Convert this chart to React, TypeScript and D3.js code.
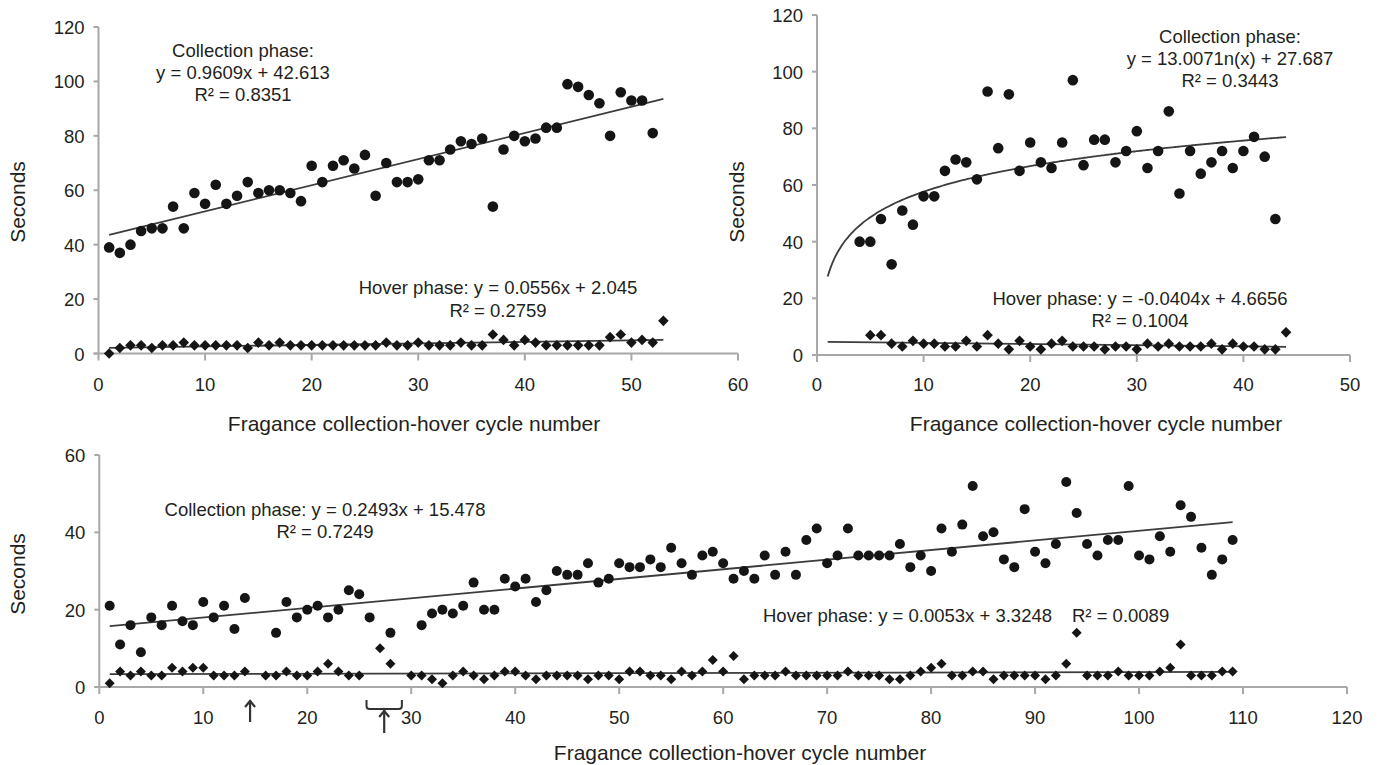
import React from "react";
import * as d3 from "d3";

// ---------- DATA ----------
// Top-left panel (cycles start at 1)
const tlCollection = [39, 37, 40, 45, 46, 46, 54, 46, 59, 55, 62, 55, 58, 63, 59, 60, 60, 59, 56, 69, 63, 69, 71, 68, 73, 58, 70, 63, 63, 64, 71, 71, 75, 78, 77, 79, 54, 75, 80, 78, 79, 83, 83, 99, 98, 95, 92, 80, 96, 93, 93, 81];
const tlHover = [0, 2, 3, 3, 2, 3, 3, 4, 3, 3, 3, 3, 3, 2, 4, 3, 4, 3, 3, 3, 3, 3, 3, 3, 3, 3, 4, 3, 3, 4, 3, 3, 3, 4, 3, 3, 7, 5, 3, 5, 4, 3, 3, 3, 3, 3, 3, 6, 7, 4, 5, 4, 12];
const tlCollectionStart = 1;
const tlHoverStart = 1;

// Top-right panel
const trCollection = [40, 40, 48, 32, 51, 46, 56, 56, 65, 69, 68, 62, 93, 73, 92, 65, 75, 68, 66, 75, 97, 67, 76, 76, 68, 72, 79, 66, 72, 86, 57, 72, 64, 68, 72, 66, 72, 77, 70, 48];
const trHover = [7, 7, 4, 3, 5, 4, 4, 3, 3, 5, 3, 7, 4, 2, 5, 3, 2, 4, 5, 3, 3, 3, 2, 3, 3, 2, 4, 3, 4, 3, 3, 3, 4, 2, 4, 3, 3, 2, 2, 8];
const trCollectionStart = 4;
const trHoverStart = 5;

// Bottom panel (cycles 1..109, null = no value)
const bCollection = [
  21, 11, 16, 9, 18, 16, 21, 17, 16, 22,
  18, 21, 15, 23, null, null, 14, 22, 18, 20,
  21, 18, 20, 25, 24, 18, null, 14, null, null,
  16, 19, 20, 19, 21, 27, 20, 20, 28, 26,
  28, 22, 25, 30, 29, 29, 32, 27, 28, 32,
  31, 31, 33, 31, 36, 32, 29, 34, 35, 32,
  28, 30, 28, 34, 29, 35, 29, 38, 41, 32,
  34, 41, 34, 34, 34, 34, 37, 31, 34, 30,
  41, 35, 42, 52, 39, 40, 33, 31, 46, 35,
  32, 37, 53, 45, 37, 34, 38, 38, 52, 34,
  33, 39, 35, 47, 44, 36, 29, 33, 38,
];
const bHover = [
  1, 4, 3, 4, 3, 3, 5, 4, 5, 5,
  3, 3, 3, 4, null, 3, 3, 4, 3, 3,
  4, 6, 4, 3, 3, null, 10, 6, null, 3,
  3, 2, 1, 3, 4, 3, 2, 3, 4, 4,
  3, 2, 3, 3, 3, 3, 2, 3, 3, 2,
  4, 4, 3, 3, 2, 4, 3, 4, 7, 4,
  8, 2, 3, 3, 3, 4, 3, 3, 3, 3,
  3, 4, 3, 3, 3, 2, 2, 3, 4, 5,
  6, 3, 3, 4, 4, 2, 3, 3, 3, 3,
  2, 3, 6, 14, 3, 3, 3, 4, 3, 3,
  3, 4, 5, 11, 3, 3, 3, 4, 4,
];
const bStart = 1;

// Annotation markers in the bottom panel (cycle numbers)
const bArrows = [14.5, 27.4];
const bBracket = [25.7, 29.1];

// Trend equations (as printed in the figure)
const tlCollFit = { a: 0.9609, b: 42.613, x0: 1, x1: 53 };
const tlHoverFit = { a: 0.0556, b: 2.045, x0: 1, x1: 53 };
const trCollFit = { a: 13.007, b: 27.687, x0: 1, x1: 44 }; // logarithmic
const trHoverFit = { a: -0.0404, b: 4.6656, x0: 1, x1: 44 };
const bCollFit = { a: 0.2493, b: 15.478, x0: 1, x1: 109 };
const bHoverFit = { a: 0.0053, b: 3.3248, x0: 1, x1: 109 };

const xTitle = "Fragance collection-hover cycle number";
const yTitle = "Seconds";

// ---------- STYLE ----------
const FONT = "'Liberation Sans', Arial, Helvetica, sans-serif";
const AXIS = "#a8a8a8";
const TXT = "#231f20";
const MARK = "#151515";
const TREND = "#3c3c3c";

type Pt = { x: number; y: number };
const toPts = (vals: (number | null)[], start: number): Pt[] =>
  vals
    .map((v, i) => (v == null ? null : { x: start + i, y: v }))
    .filter((d): d is Pt => d != null);

const diamond = (r: number) => `M0,${-r}L${r},0L0,${r}L${-r},0Z`;

function Axes({ x, y, xTickVals, yTickVals, labelDy }: any) {
  const x0 = x(0);
  const y0 = y(0);
  const xr = x.range();
  const yr = y.range();
  return (
    <g>
      <line x1={x0} x2={x0} y1={y0 + 1} y2={yr[1]} stroke={AXIS} strokeWidth={2} />
      <line x1={x0 - 5} x2={xr[1]} y1={y0} y2={y0} stroke={AXIS} strokeWidth={2} />
      {yTickVals.map((t: number) => (
        <g key={"y" + t}>
          <line x1={x0 - 5} x2={x0} y1={y(t)} y2={y(t)} stroke={AXIS} strokeWidth={2} />
          <text x={x0 - 14} y={y(t) + 7} textAnchor="end" fontSize={18.5} fill={TXT}>{t}</text>
        </g>
      ))}
      {xTickVals.map((t: number) => (
        <g key={"x" + t}>
          <line x1={x(t)} x2={x(t)} y1={y0} y2={y0 + 7} stroke={AXIS} strokeWidth={2} />
          <text x={x(t)} y={y0 + labelDy} textAnchor="middle" fontSize={18.5} fill={TXT}>{t}</text>
        </g>
      ))}
    </g>
  );
}

function Markers({ x, y, coll, hover, r }: any) {
  return (
    <g>
      {hover.map((d: Pt, i: number) => (
        <path key={"h" + i} d={diamond(r)} transform={`translate(${x(d.x)},${y(d.y)})`} fill={MARK} />
      ))}
      {coll.map((d: Pt, i: number) => (
        <circle key={"c" + i} cx={x(d.x)} cy={y(d.y)} r={r} fill={MARK} />
      ))}
    </g>
  );
}

function linFit(x: any, y: any, f: any) {
  const line = d3.line<number>().x((v) => x(v)).y((v) => y(f.a * v + f.b));
  return line([f.x0, f.x1]) || "";
}

function logFit(x: any, y: any, f: any) {
  const xs: number[] = [];
  for (let v = f.x0; v <= f.x1 + 1e-9; v += 0.25) xs.push(v);
  const line = d3.line<number>().x((v) => x(v)).y((v) => y(f.a * Math.log(v) + f.b)).curve(d3.curveMonotoneX);
  return line(xs) || "";
}

export default function App() {
  // Top-left
  const xTL = d3.scaleLinear().domain([0, 60]).range([98.5, 738]);
  const yTL = d3.scaleLinear().domain([0, 120]).range([353.5, 27]);
  // Top-right
  const xTR = d3.scaleLinear().domain([0, 50]).range([817, 1350]);
  const yTR = d3.scaleLinear().domain([0, 120]).range([355, 15]);
  // Bottom
  const xB = d3.scaleLinear().domain([0, 120]).range([99.3, 1347]);
  const yB = d3.scaleLinear().domain([0, 60]).range([687, 455]);

  const tlC = toPts(tlCollection, tlCollectionStart);
  const tlH = toPts(tlHover, tlHoverStart);
  const trC = toPts(trCollection, trCollectionStart);
  const trH = toPts(trHover, trHoverStart);
  const bC = toPts(bCollection, bStart);
  const bH = toPts(bHover, bStart);

  const ann = { fontSize: 18.5, fill: TXT, textAnchor: "middle" as const };

  const arrow = (cx: number, tip: number, tail: number) => (
    <g stroke="#333" strokeWidth={2.2} fill="none">
      <line x1={cx} x2={cx} y1={tip} y2={tail} />
      <polyline points={`${cx - 5},${tip + 7} ${cx},${tip + 1} ${cx + 5},${tip + 7}`} />
    </g>
  );
  const bx1 = xB(bBracket[0]);
  const bx2 = xB(bBracket[1]);

  return (
    <div style={{ position: "absolute", left: 0, top: 0 }}>
      <svg width={1378} height={765} style={{ display: "block", fontFamily: FONT }}>
        <rect width={1378} height={765} fill="#ffffff" />

        {/* ---------- Top-left ---------- */}
        <Axes x={xTL} y={yTL} xTickVals={xTL.ticks(6)} yTickVals={yTL.ticks(6)} labelDy={37.5} />
        <path d={linFit(xTL, yTL, tlCollFit)} stroke={TREND} strokeWidth={1.8} fill="none" />
        <path d={linFit(xTL, yTL, tlHoverFit)} stroke={TREND} strokeWidth={1.8} fill="none" />
        <Markers x={xTL} y={yTL} coll={tlC} hover={tlH} r={5.3} />
        <text {...ann} x={243} y={56.5}>Collection phase:</text>
        <text {...ann} x={243} y={78.5}>y = 0.9609x + 42.613</text>
        <text {...ann} x={243} y={100.5}>R² = 0.8351</text>
        <text {...ann} x={498} y={293.5}>Hover phase: y = 0.0556x + 2.045</text>
        <text {...ann} x={498} y={316.5}>R² = 0.2759</text>
        <text x={414} y={430.5} textAnchor="middle" fontSize={21} fill={TXT}>{xTitle}</text>
        <text transform="translate(25,202) rotate(-90)" textAnchor="middle" fontSize={21} fill={TXT}>{yTitle}</text>

        {/* ---------- Top-right ---------- */}
        <Axes x={xTR} y={yTR} xTickVals={xTR.ticks(5)} yTickVals={yTR.ticks(6)} labelDy={36} />
        <path d={logFit(xTR, yTR, trCollFit)} stroke={TREND} strokeWidth={1.8} fill="none" />
        <path d={linFit(xTR, yTR, trHoverFit)} stroke={TREND} strokeWidth={1.8} fill="none" />
        <Markers x={xTR} y={yTR} coll={trC} hover={trH} r={5.3} />
        <text {...ann} x={1230} y={42.5}>Collection phase:</text>
        <text {...ann} x={1230} y={64.5}>y = 13.0071n(x) + 27.687</text>
        <text {...ann} x={1230} y={86.5}>R² = 0.3443</text>
        <text {...ann} x={1140} y={304.5}>Hover phase: y = -0.0404x + 4.6656</text>
        <text {...ann} x={1140} y={326.5}>R² = 0.1004</text>
        <text x={1096} y={430.5} textAnchor="middle" fontSize={21} fill={TXT}>{xTitle}</text>
        <text transform="translate(744,202) rotate(-90)" textAnchor="middle" fontSize={21} fill={TXT}>{yTitle}</text>

        {/* ---------- Bottom ---------- */}
        <Axes x={xB} y={yB} xTickVals={xB.ticks(12)} yTickVals={yB.ticks(3)} labelDy={37} />
        <path d={linFit(xB, yB, bCollFit)} stroke={TREND} strokeWidth={1.8} fill="none" />
        <path d={linFit(xB, yB, bHoverFit)} stroke={TREND} strokeWidth={1.8} fill="none" />
        <Markers x={xB} y={yB} coll={bC} hover={bH} r={5} />
        <text {...ann} x={325} y={515.5}>Collection phase: y = 0.2493x + 15.478</text>
        <text {...ann} x={325} y={537.5}>R² = 0.7249</text>
        <text x={763} y={621.5} fontSize={18.5} fill={TXT}>Hover phase: y = 0.0053x + 3.3248</text>
        <text x={1072} y={621.5} fontSize={18.5} fill={TXT}>R² = 0.0089</text>
        <text x={740} y={760} textAnchor="middle" fontSize={21} fill={TXT}>{xTitle}</text>
        <text transform="translate(25,574) rotate(-90)" textAnchor="middle" fontSize={21} fill={TXT}>{yTitle}</text>

        {arrow(xB(bArrows[0]), 700, 722)}
        {arrow(xB(bArrows[1]), 710, 733)}
        <path
          d={`M${bx1},700 L${bx1},706 Q${bx1},709 ${bx1 + 3},709 L${bx2 - 3},709 Q${bx2},709 ${bx2},706 L${bx2},700`}
          stroke="#333"
          strokeWidth={2}
          fill="none"
        />
      </svg>
    </div>
  );
}
